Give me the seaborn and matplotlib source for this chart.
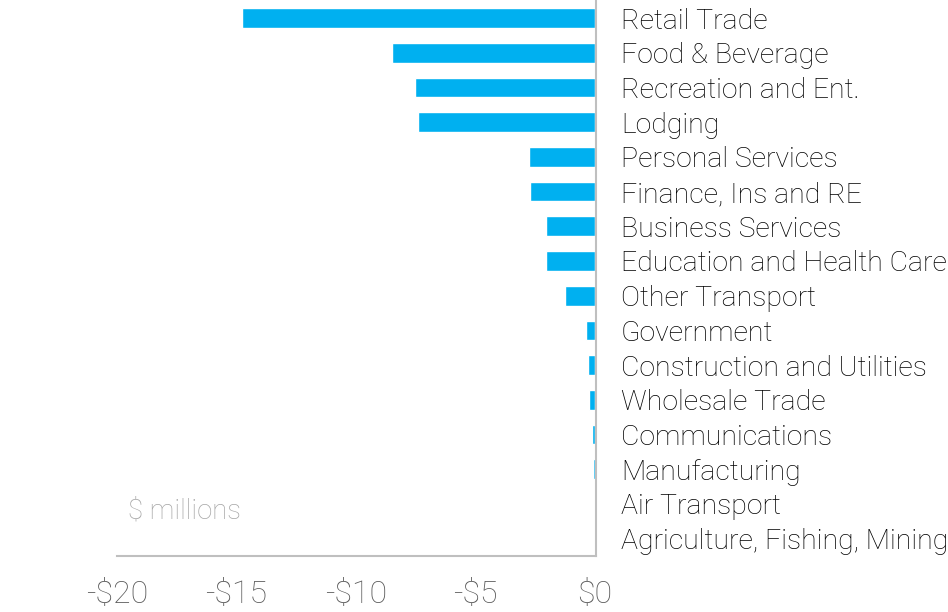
import numpy as np
import pandas as pd
import matplotlib
matplotlib.use("Agg")
import matplotlib.pyplot as plt
from matplotlib.ticker import FuncFormatter
import seaborn as sns

industries = ["Retail Trade", "Food & Beverage", "Recreation and Ent.", "Lodging",
              "Personal Services", "Finance, Ins and RE", "Business Services",
              "Education and Health Care", "Other Transport", "Government",
              "Construction and Utilities", "Wholesale Trade", "Communications",
              "Manufacturing", "Air Transport", "Agriculture, Fishing, Mining"]
change = [-14.75, -8.47, -7.53, -7.39, -2.74, -2.70, -2.03, -2.03, -1.25,
          -0.37, -0.30, -0.24, -0.12, -0.06, 0.0, 0.0]
xticks = [-20, -15, -10, -5, 0]

df = pd.DataFrame({"industry": industries, "change": change})

sns.set_style("white")
plt.rcParams["font.family"] = ["Roboto", "DejaVu Sans"]

fig = plt.figure(figsize=(9.48, 6.12), dpi=100)
ax = fig.add_axes([0.1234, 0.0915, 0.5053, 0.9074])

sns.barplot(data=df, x="change", y="industry", orient="h", color="#00B0F0",
            saturation=1, width=0.57, ax=ax)

ax.set_xlim(-20, 0.05)
ax.set_xticks(xticks)
ax.xaxis.set_major_formatter(FuncFormatter(lambda v, p: ("-$%d" % -v) if v < 0 else "$0"))
ax.yaxis.tick_right()
ax.tick_params(axis="y", length=0, pad=18, labelsize=20.4, labelcolor="#000000")
ax.tick_params(axis="x", length=0, pad=17, labelsize=23, labelcolor="#595959")
for lbl in ax.get_yticklabels() + ax.get_xticklabels():
    lbl.set_fontweight("light")
ax.set_xlabel("")
ax.set_ylabel("")

for s in ["left", "top"]:
    ax.spines[s].set_visible(False)
for s in ["right", "bottom"]:
    ax.spines[s].set_color("#BFBFBF")
    ax.spines[s].set_linewidth(1.5)

ax.text(0.023, 0.081, "$ millions", transform=ax.transAxes, fontsize=19.8,
        color="#A6A6A6", fontweight="light", va="center", ha="left")

fig.savefig("out.png", dpi=100)
